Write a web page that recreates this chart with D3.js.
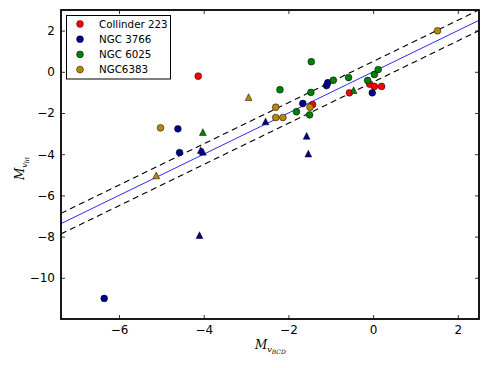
<!DOCTYPE html>
<html><head><meta charset="utf-8">
<script src="https://cdn.jsdelivr.net/npm/d3@7"></script>
<style>body{margin:0;background:#fff;} svg{display:block;}</style>
</head><body>
<script>
// ---- data ----
const clusters = ["Collinder 223", "NGC 3766", "NGC 6025", "NGC6383"];
const colors = ["#ff0000", "#00008b", "#008000", "#b8860b"];
// circles
const colX = [-4.13, -1.43, -0.56, -0.08, 0.03, 0.20];
const colY = [-0.21, -1.59, -1.02, -0.60, -0.71, -0.71];
const n3766X = [-6.35, -4.61, -4.57, -1.66, -1.10, -1.07, -0.02];
const n3766Y = [-11.0, -2.77, -3.92, -1.54, -0.67, -0.53, -1.02];
const n6025X = [-1.46, -2.20, -1.47, -1.81, -1.50, -0.94, -0.58, -0.13, 0.03, 0.12];
const n6025Y = [0.49, -0.87, -1.00, -1.94, -2.09, -0.41, -0.28, -0.42, -0.13, 0.11];
const n6383X = [-5.02, 1.52, -2.30, -2.30, -2.13, -1.49];
const n6383Y = [-2.72, 1.99, -1.72, -2.22, -2.22, -1.72];
// triangles
const triColX = [];
const triColY = [];
const tri3766X = [-4.07, -4.02, -4.10, -2.54, -1.57, -1.53];
const tri3766Y = [-3.80, -3.88, -7.93, -2.41, -3.11, -3.97];
const tri6025X = [-4.02, -0.46];
const tri6025Y = [-2.93, -0.89];
const tri6383X = [-2.94, -5.12];
const tri6383Y = [-1.23, -5.03];

const xTicks = [-6, -4, -2, 0, 2];
const yTicks = [2, 0, -2, -4, -6, -8, -10];
const xDomain = [-7.37, 2.5];
const yDomain = [-12, 3];
const bandOffsets = [0.5, -0.5];

const circleSets = [[colX, colY], [n3766X, n3766Y], [n6025X, n6025Y], [n6383X, n6383Y]];
const triSets = [[triColX, triColY], [tri3766X, tri3766Y], [tri6025X, tri6025Y], [tri6383X, tri6383Y]];

// ---- layout ----
const W = 491, H = 368;
const m = {left: 61, top: 10, right: 12, bottom: 49};
const x = d3.scaleLinear().domain(xDomain).range([m.left, W - m.right]);
const y = d3.scaleLinear().domain(yDomain).range([H - m.bottom, m.top]);

const svg = d3.select("body").append("svg").attr("width", W).attr("height", H);

const clip = svg.append("defs").append("clipPath").attr("id", "clip")
  .append("rect").attr("x", m.left).attr("y", m.top)
  .attr("width", W - m.left - m.right).attr("height", H - m.top - m.bottom);

const plot = svg.append("g").attr("clip-path", "url(#clip)");

// lines
const line = d3.line().x(d => x(d[0])).y(d => y(d[1]));
plot.append("path").attr("d", line(xDomain.map(v => [v, v])))
  .attr("fill", "none").attr("stroke", "#2b2bff").attr("stroke-width", 1);
bandOffsets.forEach(o => {
  plot.append("path").attr("d", line(xDomain.map(v => [v, v + o])))
    .attr("fill", "none").attr("stroke", "#000").attr("stroke-width", 1.1)
    .attr("stroke-dasharray", "6,4");
});

// circles
circleSets.forEach((s, i) => {
  plot.append("g").selectAll("circle").data(s[0].map((v, j) => [v, s[1][j]]))
    .join("circle").attr("cx", d => x(d[0])).attr("cy", d => y(d[1])).attr("r", 3.4)
    .attr("fill", colors[i]).attr("stroke", "#000").attr("stroke-width", 0.5);
});
// triangles
const h = 3.4;
triSets.forEach((s, i) => {
  plot.append("g").selectAll("path").data(s[0].map((v, j) => [v, s[1][j]]))
    .join("path")
    .attr("d", d => { const cx = x(d[0]), cy = y(d[1]);
      return `M${cx},${cy - h}L${cx - h},${cy + h}L${cx + h},${cy + h}Z`; })
    .attr("fill", colors[i]).attr("stroke", "#000").attr("stroke-width", 0.5);
});

// axes
const tickLen = 4;
const fontTick = "DejaVu Sans, sans-serif";
const axB = svg.append("g").attr("transform", `translate(0,${H - m.bottom})`)
  .call(d3.axisBottom(x).tickValues(xTicks).tickSize(-tickLen).tickPadding(6)
    .tickFormat(d => d3.format("d")(d).replace("-", "\u2212")));
const axT = svg.append("g").attr("transform", `translate(0,${m.top})`)
  .call(d3.axisTop(x).tickValues(xTicks).tickSize(-tickLen).tickFormat(""));
const axL = svg.append("g").attr("transform", `translate(${m.left},0)`)
  .call(d3.axisLeft(y).tickValues(yTicks).tickSize(-tickLen).tickPadding(6)
    .tickFormat(d => d3.format("d")(d).replace("-", "\u2212")));
const axR = svg.append("g").attr("transform", `translate(${W - m.right},0)`)
  .call(d3.axisRight(y).tickValues(yTicks).tickSize(-tickLen).tickFormat(""));
[axB, axT, axL, axR].forEach(a => {
  a.select(".domain").remove();
  a.selectAll(".tick line").attr("stroke", "#000").attr("stroke-width", 0.8);
  a.selectAll("text").attr("font-family", fontTick).attr("font-size", 12).attr("fill", "#000");
});

// frame
svg.append("rect").attr("x", m.left).attr("y", m.top)
  .attr("width", W - m.left - m.right).attr("height", H - m.top - m.bottom)
  .attr("fill", "none").attr("stroke", "#000").attr("stroke-width", 1.8);

// axis labels
const serif = "DejaVu Serif, Liberation Serif, serif";
const xl = svg.append("text").attr("x", 255).attr("y", 349)
  .attr("font-family", serif).attr("font-style", "italic").attr("font-size", 12);
xl.append("tspan").text("M");
xl.append("tspan").attr("font-size", 8).attr("dy", 3).text("v");
xl.append("tspan").attr("font-size", 6).attr("dy", 2).text("BCD");

const yl = svg.append("text").attr("transform", "translate(24,180) rotate(-90)")
  .attr("font-family", serif).attr("font-style", "italic").attr("font-size", 12);
yl.append("tspan").text("M");
yl.append("tspan").attr("font-size", 8).attr("dy", 3).text("v");
yl.append("tspan").attr("font-size", 6).attr("dy", 2).text("lit");

// legend
const lg = svg.append("g");
lg.append("rect").attr("x", 66.5).attr("y", 15.5).attr("width", 104).attr("height", 63.5)
  .attr("fill", "#fff").attr("stroke", "#000").attr("stroke-width", 1);
clusters.forEach((c, i) => {
  const yy = 24 + i * 15.2;
  lg.append("circle").attr("cx", 80).attr("cy", yy).attr("r", 3.4)
    .attr("fill", colors[i]).attr("stroke", "#000").attr("stroke-width", 0.5);
  lg.append("text").attr("x", 99).attr("y", yy).attr("dy", "0.36em")
    .attr("font-family", fontTick).attr("font-size", 10.3).text(c);
});
</script>
</body></html>
